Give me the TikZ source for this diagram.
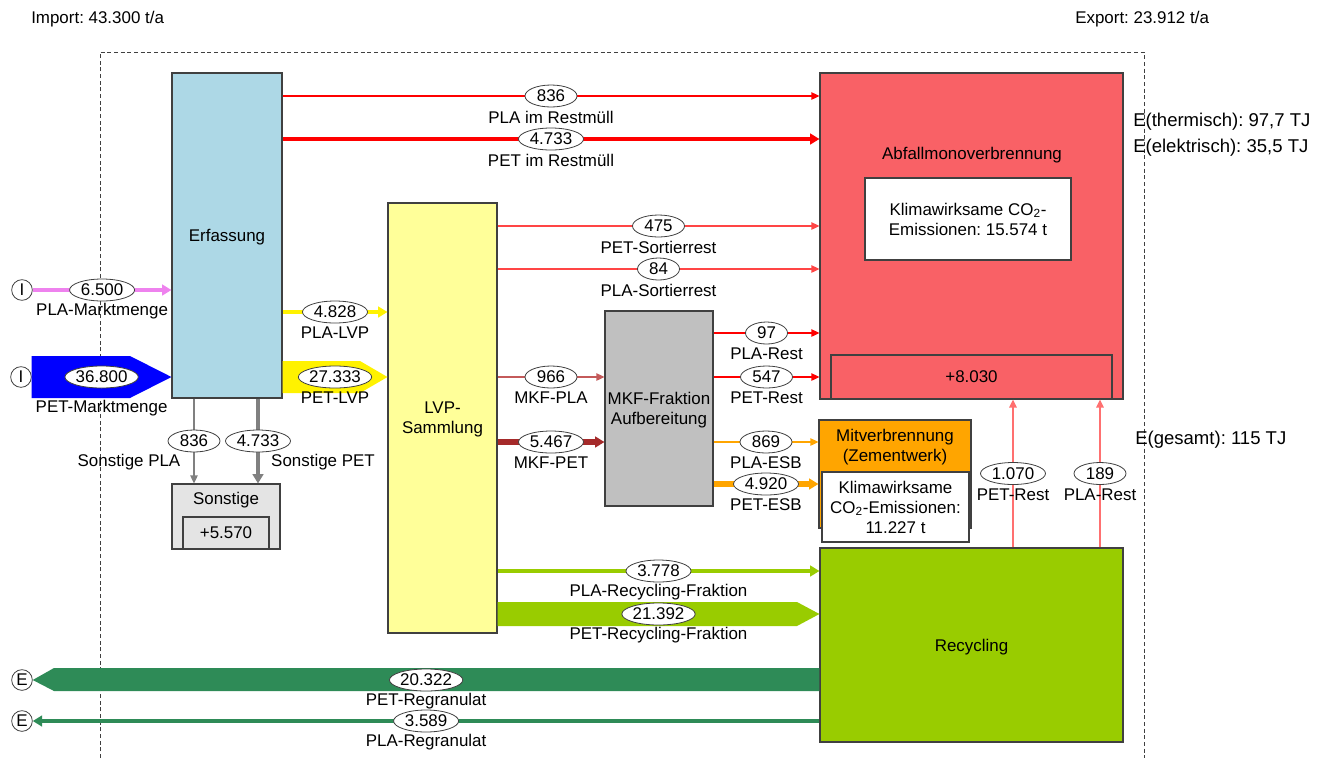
\documentclass[tikz,border=0pt]{standalone}
\usepackage{fontspec}
\setmainfont{Liberation Sans}
\usetikzlibrary{arrows.meta,shapes.geometric}
\usepackage{xcolor}
\definecolor{erfblue}{HTML}{ADD8E6}
\definecolor{lvpyellow}{HTML}{FFFF99}
\definecolor{mkfgray}{HTML}{C0C0C0}
\definecolor{sonstgray}{HTML}{E4E4E4}
\definecolor{mvared}{HTML}{F96166}
\definecolor{zementorange}{HTML}{FFA500}
\definecolor{recgreen}{HTML}{99CC00}
\definecolor{granulgreen}{HTML}{2E8B57}
\definecolor{marktviolet}{HTML}{EE82EE}
\definecolor{sortred}{HTML}{FF4545}
\definecolor{restred}{HTML}{FF7070}
\definecolor{mkfred}{HTML}{C45A5A}
\definecolor{mkfbrown}{HTML}{A52A2A}
\definecolor{edge}{HTML}{404040}

\tikzset{
  stock/.style={draw=edge, line width=0.8pt, inner sep=0pt, text depth=0pt, align=center},
  val/.style={ellipse, draw=edge, line width=0.6pt, fill=white, text=black, inner sep=0pt,
    minimum height=16.5pt, minimum width=#1},
  val/.default=39pt,
  flowname/.style={text=black, yshift=-15.75pt},
  flow/.style={-{Triangle[length=6pt,width=5.5pt]}, line width=1pt},
  bigflow/.style={-{Triangle[length=7pt,width=8pt]}},
  ioring/.style={circle, draw=edge, line width=0.6pt, fill=white, inner sep=0pt, minimum size=15.5pt},
  note/.style={anchor=west, inner sep=0pt},
  energy/.style={note, font=\fontsize{13.9}{16}\selectfont\frenchspacing},
}

\begin{document}
\begin{tikzpicture}[x=0.75pt, y=-0.75pt, every node/.style={font=\fontsize{12.7}{15}\selectfont\frenchspacing}]
  \useasboundingbox (0,0) rectangle (1322,758);

  % system boundary and totals
  \draw[edge, dash pattern=on 3pt off 2pt, line width=0.6pt] (100,758) -- (100,52) -- (1144,52) -- (1144,758);
  \node[note] (imp) at (31,19) {Import: 43.300 t/a};
  \node[note] (exp) at (1075,19) {Export: 23.912 t/a};

  % processes
  \node[stock, fill=erfblue, minimum width=82.5pt, minimum height=243.75pt] (erf) at (227,235.5) {Erfassung};
  \node[stock, fill=lvpyellow, minimum width=81.75pt, minimum height=322.5pt] (lvp) at (442.5,418) {LVP-\\Sammlung};
  \node[stock, fill=mkfgray, minimum width=81pt, minimum height=146.25pt] (mkf) at (659,408.5) {MKF-Fraktion\\Aufbereitung};

  \node[stock, fill=sonstgray, minimum width=81pt, minimum height=48.75pt] (son) at (226,516.5) {};
  \node (sontxt) at (226,500) {Sonstige};
  \node[stock, fill=sonstgray, minimum width=64.5pt, minimum height=24pt] (sonlager) at (226,533) {+5.570};

  \node[stock, fill=mvared, minimum width=227.25pt, minimum height=244.5pt] (abf) at (971.5,236) {};
  \node (abftxt) at (972,155) {Abfallmonoverbrennung};
  \node[stock, fill=white, minimum width=154.5pt, minimum height=61.5pt] (abfco) at (968,219) {Klimawirksame CO\textsubscript{2}-\\Emissionen: 15.574 t};
  \node[stock, fill=mvared, minimum width=210.75pt, minimum height=33pt] (abflager) at (971.5,377) {+8.030};

  \node[stock, fill=zementorange, minimum width=114pt, minimum height=81pt] (mit) at (895,474) {};
  \node[align=center] (mittxt) at (895,447) {Mitverbrennung\\(Zementwerk)};
  \node[stock, fill=white, minimum width=110.25pt, minimum height=52.5pt] (mitco) at (895.5,507) {Klimawirksame\\CO\textsubscript{2}-Emissionen:\\11.227 t};

  \node[stock, fill=recgreen, minimum width=227.25pt, minimum height=145.5pt] (rec) at (971.5,645) {Recycling};

  % import / export markers
  \node[ioring] (iPLA) at (22,290) {I};
  \node[ioring] (iPET) at (21,377) {I};
  \node[ioring] (ePET) at (22,680) {E};
  \node[ioring] (ePLA) at (22,721) {E};

  % wide flows
  \fill[blue] (iPET.east |- 0,356) -- (130,356) -- (erf.west |- 0,377) -- (130,398) -- (iPET.east |- 0,398) -- cycle;
  \path (iPET.east) -- node[val=55pt] (vPETmm) {36.800} node[flowname, yshift=-7.5pt] (nPETmm) {PET-Marktmenge} (erf.west |- iPET.east);

  \fill[yellow] (erf.east |- 0,361) -- (360,361) -- (lvp.west |- 0,377) -- (360,393) -- (erf.east |- 0,393) -- cycle;
  \path (erf.east |- 0,377) -- node[val=55pt] (vPETlvp) {27.333} node[flowname] (nPETlvp) {PET-LVP} (lvp.west |- 0,377);

  \fill[recgreen] (lvp.east |- 0,602) -- (797,602) -- (rec.west |- 0,614) -- (797,626) -- (lvp.east |- 0,626) -- cycle;
  \path (lvp.east |- 0,614) -- node[val=55pt] (vPETrf) {21.392} node[flowname] (nPETrf) {PET-Recycling-Fraktion} (rec.west |- 0,614);

  \fill[granulgreen] (rec.west |- 0,668) -- (54,668) -- (ePET.east) -- (54,691) -- (rec.west |- 0,691) -- cycle;
  \path (rec.west |- 0,680) -- node[val=55pt] (vPETrg) {20.322} node[flowname] (nPETrg) {PET-Regranulat} (ePET.east);

  % line flows
  \draw[bigflow, marktviolet, line width=3.5pt] (iPLA) -- node[val=48.75pt] (vPLAmm) {6.500} node[flowname] (nPLAmm) {PLA-Marktmenge} (erf.west |- iPLA);

  \draw[flow, red] (erf.east |- 0,96) -- node[val] (vPLArm) {836} node[flowname] (nPLArm) {PLA im Restmüll} (abf.west |- 0,96);
  \draw[bigflow, red, line width=3pt] (erf.east |- 0,139) -- node[val=48.75pt] (vPETrm) {4.733} node[flowname] (nPETrm) {PET im Restmüll} (abf.west |- 0,139);

  \draw[bigflow, yellow, line width=3pt] (erf.east |- 0,312) -- node[val=48.75pt] (vPLAlvp) {4.828} node[flowname] (nPLAlvp) {PLA-LVP} (lvp.west |- 0,312);

  \draw[flow, gray] (erf.south -| 194,0) -- node[val] (vPLAson) {836} node[flowname, xshift=-48.75pt] (nPLAson) {Sonstige PLA} (son.north -| 194,0);
  \draw[bigflow, gray, line width=2.75pt] (erf.south -| 258,0) -- node[val=48.75pt] (vPETson) {4.733} node[flowname, xshift=48.75pt] (nPETson) {Sonstige PET} (son.north -| 258,0);

  \draw[flow, sortred] (lvp.east |- 0,226) -- node[val] (vPETsr) {475} node[flowname] (nPETsr) {PET-Sortierrest} (abf.west |- 0,226);
  \draw[flow, sortred] (lvp.east |- 0,269) -- node[val=31.5pt] (vPLAsr) {84} node[flowname] (nPLAsr) {PLA-Sortierrest} (abf.west |- 0,269);

  \draw[flow, mkfred] (lvp.east |- 0,377) -- node[val] (vMKFpla) {966} node[flowname] (nMKFpla) {MKF-PLA} (mkf.west |- 0,377);
  \draw[bigflow, mkfbrown, line width=4pt] (lvp.east |- 0,442) -- node[val=48.75pt] (vMKFpet) {5.467} node[flowname] (nMKFpet) {MKF-PET} (mkf.west |- 0,442);

  \draw[flow, red] (mkf.east |- 0,333) -- node[val=31.5pt] (vPLArest) {97} node[flowname] (nPLArest) {PLA-Rest} (abf.west |- 0,333);
  \draw[flow, red] (mkf.east |- 0,377) -- node[val] (vPETrest) {547} node[flowname] (nPETrest) {PET-Rest} (abf.west |- 0,377);
  \draw[flow, zementorange] (mkf.east |- 0,442) -- node[val] (vPLAesb) {869} node[flowname] (nPLAesb) {PLA-ESB} (mit.west |- 0,442);
  \draw[bigflow, zementorange, line width=4pt] (mkf.east |- 0,484) -- node[val=48.75pt] (vPETesb) {4.920} node[flowname] (nPETesb) {PET-ESB} (mit.west |- 0,484);

  \draw[flow, restred, line width=1.5pt] (rec.north -| 1013,0) -- node[val=48.75pt] (vRECpet) {1.070} node[flowname] (nRECpet) {PET-Rest} (abf.south -| 1013,0);
  \draw[flow, restred, line width=1.5pt] (rec.north -| 1100,0) -- node[val] (vRECpla) {189} node[flowname] (nRECpla) {PLA-Rest} (abf.south -| 1100,0);

  \draw[bigflow, recgreen, line width=3pt] (lvp.east |- 0,571) -- node[val=48.75pt] (vPLArf) {3.778} node[flowname] (nPLArf) {PLA-Recycling-Fraktion} (rec.west |- 0,571);
  \draw[bigflow, granulgreen, line width=2.5pt] (rec.west |- 0,721) -- node[val=48.75pt] (vPLArg) {3.589} node[flowname] (nPLArg) {PLA-Regranulat} (ePLA);

  % energy
  \node[energy] (eth) at (1133,122) {E(thermisch): 97,7 TJ};
  \node[energy] (eel) at (1133,148) {E(elektrisch): 35,5 TJ};
  \node[energy] (eges) at (1135,440) {E(gesamt): 115 TJ};
\end{tikzpicture}
\end{document}
